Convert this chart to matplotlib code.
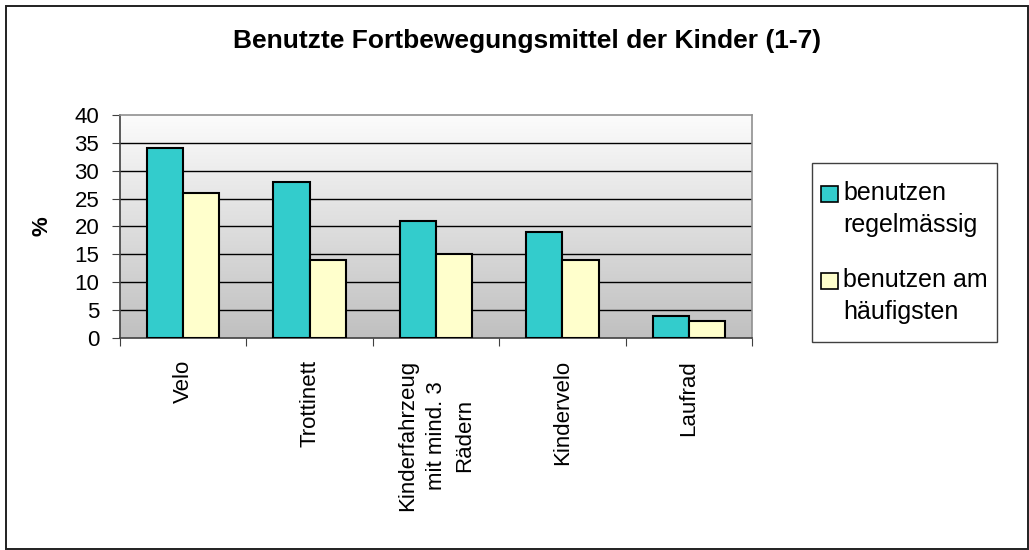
import matplotlib.pyplot as plt
import numpy as np
from matplotlib.patches import Rectangle

plt.rcParams['font.family'] = ['Liberation Sans', 'DejaVu Sans']

categories = ['Velo', 'Trottinett', 'Kinderfahrzeug\nmit mind. 3\nRädern', 'Kindervelo', 'Laufrad']
regelmaessig = [34, 28, 21, 19, 4]
haeufigsten = [26, 14, 15, 14, 3]
series_names = ['benutzen\nregelmässig', 'benutzen am\nhäufigsten']
colors = ['#33cccc', '#ffffcc']

fig = plt.figure(figsize=(10.29, 5.5), dpi=100)
W, H = 1029, 550

# outer frame
fig.patches.append(Rectangle((6 / W, 1 / H), 1022 / W, 543 / H, transform=fig.transFigure,
                             fill=False, edgecolor='#202020', linewidth=1.4))

ax = fig.add_axes([120 / W, 1 - 338 / H, 632 / W, 223 / H])

# gradient background
cmap = plt.matplotlib.colors.LinearSegmentedColormap.from_list('g', ['#fcfcfc', '#c0c0c0'])
grad = np.linspace(0, 1, 256).reshape(-1, 1)
ax.imshow(grad, cmap=cmap, extent=[-0.5, 4.5, 0, 40], aspect='auto', origin='upper', zorder=0)

x = np.arange(len(categories))
w = 0.286
ax.bar(x - w / 2, regelmaessig, w, color=colors[0], edgecolor='black', linewidth=1.5, zorder=3)
ax.bar(x + w / 2, haeufigsten, w, color=colors[1], edgecolor='black', linewidth=1.5, zorder=3)

ax.set_xlim(-0.5, 4.5)
ax.set_ylim(0, 40)
ax.set_yticks(range(0, 41, 5))
for yv in range(5, 40, 5):
    ax.axhline(yv, color='black', linewidth=1, zorder=1)

ax.set_xticks(np.arange(-0.5, 4.6, 1))
ax.set_xticklabels([])
ax.set_xticks(x, minor=True)
ax.set_xticklabels(categories, minor=True, rotation=90, fontsize=16, va='top',
                   ha='center', multialignment='center', linespacing=1.45)
ax.tick_params(axis='x', which='minor', length=0, pad=16)
ax.tick_params(axis='x', which='major', length=6, color='#404040', direction='out')
ax.tick_params(axis='y', length=6, color='#404040', labelsize=16, pad=9)

for s in ['left', 'bottom']:
    ax.spines[s].set_color('#404040')
    ax.spines[s].set_linewidth(1.2)
for s in ['top', 'right']:
    ax.spines[s].set_color('#909090')
    ax.spines[s].set_linewidth(1.2)

ax.set_ylabel('%', fontsize=16, fontweight='bold')
ax.yaxis.set_label_coords((53 - 120) / 632, 0.5)

fig.text(527 / W, 1 - 41 / H, 'Benutzte Fortbewegungsmittel der Kinder (1-7)',
         ha='center', va='center', fontsize=19, fontweight='bold')

# legend box drawn by hand (handles aligned with the first text line)
fig.patches.append(Rectangle((812 / W, 1 - 342 / H), 185 / W, 179 / H, transform=fig.transFigure,
                             facecolor='white', edgecolor='#404040', linewidth=1.0))
entry_top = [184, 271]
for name, col, top in zip(series_names, colors, entry_top):
    fig.patches.append(Rectangle((821 / W, 1 - (top + 18) / H), 17 / W, 16 / H,
                                 transform=fig.transFigure, facecolor=col,
                                 edgecolor='black', linewidth=1.2))
    fig.text(843 / W, 1 - (top - 3) / H, name, ha='left', va='top', fontsize=18,
             linespacing=1.4)

fig.savefig('out.png', dpi=100)
